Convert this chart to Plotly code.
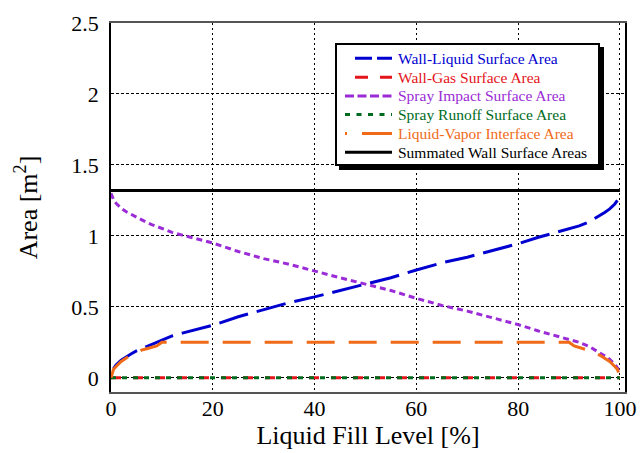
import plotly.graph_objects as go

# Fill level [%] and surface areas [m^2]
fill_liquid = [0.5, 1, 2, 3, 4, 5, 6, 7, 8, 10, 12, 14, 16, 18, 20, 25, 30, 35, 40, 45,
               50, 55, 60, 65, 70, 75, 80, 84, 86, 88, 90, 92, 94, 95, 96, 97, 98, 99, 99.5]
wall_liquid = [0.065, 0.09, 0.125, 0.15, 0.17, 0.19, 0.205, 0.225, 0.24, 0.27, 0.295, 0.315,
               0.335, 0.355, 0.37, 0.43, 0.48, 0.53, 0.57, 0.615, 0.66, 0.705, 0.76, 0.81,
               0.85, 0.895, 0.945, 0.99, 1.01, 1.025, 1.045, 1.07, 1.1, 1.12, 1.14, 1.165,
               1.19, 1.225, 1.25]

fill_flat = [0, 100]
wall_gas = [0, 0]
spray_runoff = [0, 0]
summated = [1.32, 1.32]

fill_spray = [0, 0.5, 1, 2, 3, 4, 5, 6, 7, 8, 10, 12, 14, 16, 18, 20, 25, 30, 35, 40, 45,
              50, 55, 60, 65, 70, 75, 80, 84, 86, 88, 90, 92, 94, 95, 96, 97, 98, 99, 99.5, 100]
spray_impact = [1.30, 1.255, 1.23, 1.195, 1.17, 1.15, 1.13, 1.115, 1.095, 1.08, 1.05, 1.025,
                1.005, 0.985, 0.965, 0.95, 0.89, 0.84, 0.80, 0.75, 0.705, 0.66, 0.615, 0.56,
                0.51, 0.47, 0.425, 0.375, 0.33, 0.31, 0.295, 0.275, 0.25, 0.22, 0.2, 0.18,
                0.155, 0.13, 0.095, 0.07, 0.04]

fill_interface = [0, 0.2, 0.5, 1, 2, 3, 4, 5, 6, 7, 8, 9, 10, 90, 91, 92, 93, 94, 95, 96,
                  97, 98, 99, 99.5, 99.8, 100]
interface = [0, 0.03, 0.06, 0.08, 0.115, 0.14, 0.16, 0.18, 0.195, 0.205, 0.215, 0.225, 0.25,
             0.25, 0.225, 0.215, 0.205, 0.195, 0.18, 0.16, 0.14, 0.115, 0.08, 0.06, 0.03, 0]

x_ticks = [0, 20, 40, 60, 80, 100]
y_ticks = [0, 0.5, 1, 1.5, 2, 2.5]
y_tick_labels = ["0", "0.5", "1", "1.5", "2", "2.5"]

BLUE = "#0000D0"
RED = "#E4141B"
PURPLE = "#9A2BD6"
GREEN = "#006B1E"
ORANGE = "#F06A18"
BLACK = "#000000"
FONT = "Liberation Serif, Times New Roman, serif"

W, H = 640, 453
ML, MR, MT, MB = 111, 15, 23, 61
PW, PH = W - ML - MR, H - MT - MB

# (x, y, name, colour, plot dash, legend-sample dash, sample start px)
series = [
    (fill_liquid, wall_liquid, "Wall-Liquid Surface Area", BLUE, "30px,9px", "17px,5px", 355),
    (fill_flat, wall_gas, "Wall-Gas Surface Area", RED, "10px,12px", "13px,12px", 355),
    (fill_spray, spray_impact, "Spray Impact Surface Area", PURPLE, "6px,4px", "9px,3.5px", 345),
    (fill_flat, spray_runoff, "Spray Runoff Surface Area", GREEN, "5px,6px", "5px,6.5px", 345),
    (fill_interface, interface, "Liquid-Vapor Interface Area", ORANGE, "28px,14px",
     "2px,15px,30px", 345),
    (fill_flat, summated, "Summated Wall Surface Areas", BLACK, "solid", "solid", 345),
]


def px_x(p):
    return (p - ML) / PW


def px_y(p):
    return (H - MB - p) / PH


fig = go.Figure()
for xs, ys, name, color, dash, _, _ in series:
    fig.add_trace(go.Scatter(x=xs, y=ys, mode="lines", name=name, showlegend=False,
                             line=dict(color=color, width=3, dash=dash)))

# legend box with drop shadow
fig.add_shape(type="rect", xref="paper", yref="paper",
              x0=px_x(339), x1=px_x(604), y0=px_y(170), y1=px_y(47),
              fillcolor="black", line=dict(width=0), layer="above")
fig.add_shape(type="rect", xref="paper", yref="paper",
              x0=px_x(336), x1=px_x(599), y0=px_y(165), y1=px_y(44),
              fillcolor="white", line=dict(color="black", width=2), layer="above")

row_y = [58.3, 77.3, 96.0, 114.6, 133.4, 152.3]
for (xs, ys, name, color, dash, sample_dash, x_start), ry in zip(series, row_y):
    fig.add_shape(type="line", xref="paper", yref="paper",
                  x0=px_x(x_start), x1=px_x(392), y0=px_y(ry), y1=px_y(ry),
                  line=dict(color=color, width=3, dash=sample_dash), layer="above")
    fig.add_annotation(xref="paper", yref="paper", x=px_x(395.5), y=px_y(ry),
                       xanchor="left", yanchor="middle", showarrow=False, text=name,
                       font=dict(family=FONT, size=15.5, color=color))

fig.update_layout(
    width=W, height=H,
    margin=dict(l=ML, r=MR, t=MT, b=MB, autoexpand=False),
    paper_bgcolor="white", plot_bgcolor="white",
    font=dict(family=FONT, color="black", size=22),
    showlegend=False,
)
fig.update_xaxes(
    range=[0, 101], tickvals=x_ticks, ticks="", showline=True, mirror=True,
    linecolor="#555555", linewidth=1.5, showgrid=True, gridcolor="black",
    gridwidth=1, griddash="2px,3px", zeroline=False, automargin=False,
    ticklabelstandoff=-4,
    tickfont=dict(family=FONT, size=22),
    title=dict(text="Liquid Fill Level [%]", font=dict(family=FONT, size=26), standoff=6),
)
fig.update_yaxes(
    range=[-0.1, 2.5], tickvals=y_ticks, ticktext=y_tick_labels, ticks="",
    showline=True, mirror=True, linecolor="black", linewidth=1.5,
    showgrid=True, gridcolor="black", gridwidth=1, griddash="3px,2px",
    zeroline=False, ticklabelstandoff=6, automargin=False,
    tickfont=dict(family=FONT, size=22),
    title=dict(text="Area [m<sup>2</sup>]", font=dict(family=FONT, size=26), standoff=26),
)

fig.write_html("out.html")
